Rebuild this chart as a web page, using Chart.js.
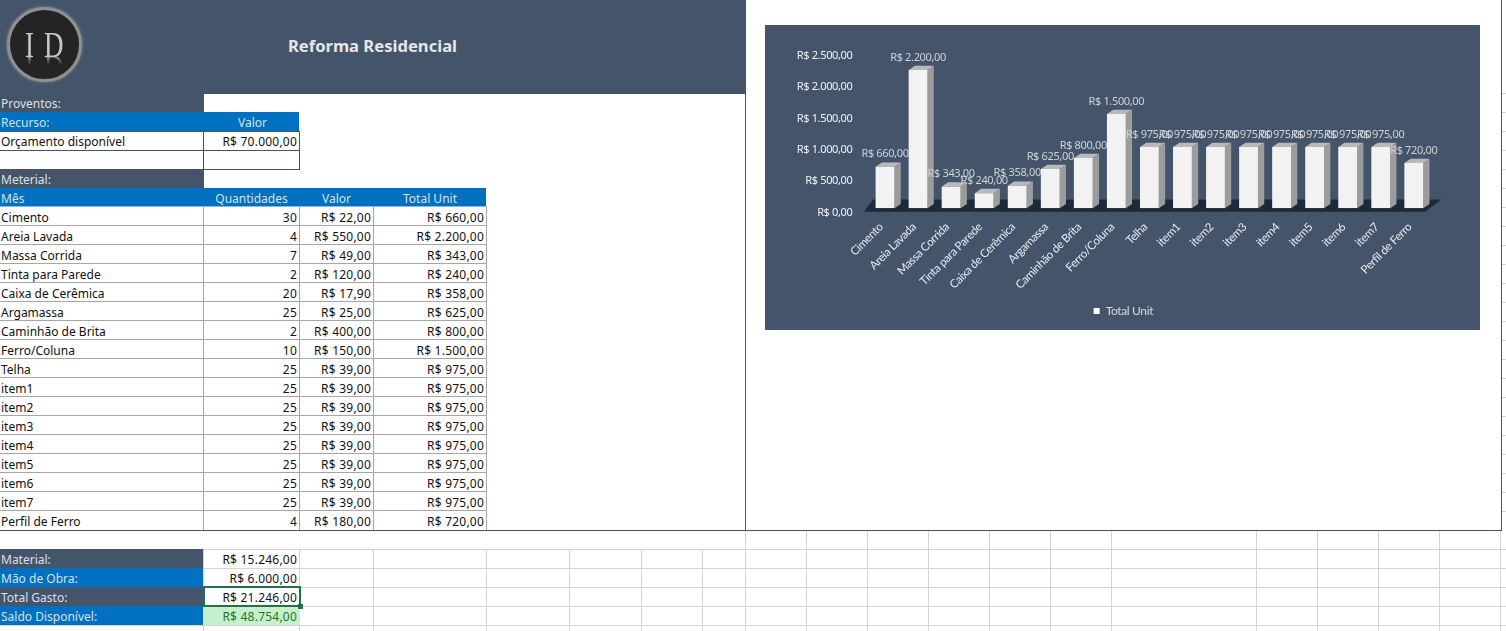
<!DOCTYPE html>
<html lang="pt-BR">
<head>
<meta charset="utf-8">
<title>Reforma Residencial</title>
<script src="https://cdn.jsdelivr.net/npm/chart.js@4"></script>
<style>
    html, body { margin: 0; padding: 0; background: #fff; overflow: hidden; }
    #sheet { position: relative; width: 1506px; height: 631px; overflow: hidden; font-family: "Noto Sans", sans-serif; font-size: 12px; color: #111; }
    .box { position: absolute; box-sizing: border-box; }
    .cell { position: absolute; box-sizing: border-box; white-space: nowrap; line-height: 21px; height: 19px; padding: 0 2px 0 1px; }
    .num { letter-spacing: .22px; }
    #chartBox { position: absolute; left: 765px; top: 25px; width: 715px; height: 305px; }
    #logo { position: absolute; left: 7px; top: 7px; width: 75px; height: 75px; border-radius: 50%; background: #242424; border: 3px solid #8f9090; box-sizing: border-box; box-shadow: 0 0 3px #9a9a9a; font-family: "Liberation Serif", serif; font-size: 36px; color: #c6c6c6; }
    #logo span { position: absolute; line-height: 40px; transform-origin: 0 0; transform: scaleX(.75); }
    #logo .mirror { transform-origin: 0 50%; transform: scale(.75, -1); opacity: .75; -webkit-mask-image: linear-gradient(to top, #000 20%, transparent 42%); }
    #title { position: absolute; left: 0; top: 34px; width: 745px; text-align: center; font-size: 16.6px; line-height: 24px; font-weight: 700; color: #e6e6e6; }
</style>
</head>
<body>
<div id="sheet"></div>
<script>
const categories = ['Cimento', 'Areia Lavada', 'Massa Corrida', 'Tinta para Parede', 'Caixa de Cerêmica', 'Argamassa',
    'Caminhão de Brita', 'Ferro/Coluna', 'Telha', 'item1', 'item2', 'item3', 'item4', 'item5', 'item6', 'item7', 'Perfil de Ferro'];
const quantities = [30, 4, 7, 2, 20, 25, 2, 10, 25, 25, 25, 25, 25, 25, 25, 25, 4];
const unitPrices = [22, 550, 49, 120, 17.9, 25, 400, 150, 39, 39, 39, 39, 39, 39, 39, 39, 180];
const totalUnit = [660, 2200, 343, 240, 358, 625, 800, 1500, 975, 975, 975, 975, 975, 975, 975, 975, 720];
const yTicks = [0, 500, 1000, 1500, 2000, 2500];
const summaryLabels = ['Material:', 'Mão de Obra:', 'Total Gasto:', 'Saldo Disponível:'];
const summaryValues = [15246, 6000, 21246, 48754];
const budget = 70000;

const NAVY = '#44546a';
const BLUE = '#0070c0';
const GRID = '#d4d4d4';
const TABLE_LINE = '#a6a6a6';

const brl = v => 'R$ ' + v.toLocaleString('pt-BR', {minimumFractionDigits: 2, maximumFractionDigits: 2});

const sheet = document.getElementById('sheet');

function box(x, y, w, h, color) {
    const el = document.createElement('div');
    el.className = 'box';
    el.style.cssText = `left:${x}px;top:${y}px;width:${w}px;height:${h}px;background:${color}`;
    sheet.appendChild(el);
    return el;
}

function text(x, y, w, str, align, color, numeric) {
    const el = document.createElement('div');
    el.className = numeric ? 'cell num' : 'cell';
    el.textContent = str;
    el.style.cssText = `left:${x}px;top:${y}px;width:${w}px;text-align:${align || 'left'};color:${color || '#111'}`;
    sheet.appendChild(el);
}

// spreadsheet grid below the tables
const gridX = [203, 299, 373, 486, 569, 641, 702, 745, 806, 867, 928, 989, 1050, 1111, 1256, 1317, 1378, 1439, 1500];
gridX.forEach(x => { if (x >= 745) box(x, 530, 1, 101, GRID); else box(x, 549, 1, 82, GRID); });
[549, 568, 587, 606, 625].forEach(y => box(0, y, 1506, 1, GRID));
for (let y = 93; y < 530; y += 19) box(1502, y, 4, 1, GRID);

// coloured bands
box(0, 0, 746, 94, NAVY);
box(0, 94, 204, 18, NAVY);
box(0, 112, 299, 19, BLUE);
box(0, 169, 204, 19, NAVY);
box(0, 188, 486, 19, BLUE);
box(0, 549, 203, 19, NAVY);
box(0, 568, 203, 19, BLUE);
box(0, 587, 203, 19, NAVY);
box(0, 606, 203, 19, BLUE);
box(203, 606, 97, 19, '#c6efce');

// budget block borders
box(0, 131, 299, 1, NAVY);
box(0, 150, 299, 1, NAVY);
box(203, 169, 97, 1, NAVY);
box(203, 131, 1, 38, NAVY);
box(299, 131, 1, 38, NAVY);

// material table borders
for (let i = 0; i <= 16; i++) box(0, 207 + i * 19 - 1, 487, 1, i ? TABLE_LINE : '#8fb8dc');
[203, 299, 373, 486].forEach(x => box(x, 207, 1, 323, TABLE_LINE));

// sheet frame
box(745, 94, 1, 436, NAVY);
box(1501, 0, 1, 531, NAVY);
box(0, 530, 1502, 1, NAVY);

// selected cell
box(203, 586, 98, 21, 'transparent').style.border = '2px solid #217346';
box(298, 604, 5, 5, '#217346');

const logo = document.createElement('div');
logo.id = 'logo';
logo.innerHTML = '<span style="left:15px;top:15px">I</span><span style="left:34px;top:15px">D</span>'
    + '<span class="mirror" style="left:15px;top:38px">I</span><span class="mirror" style="left:34px;top:38px">D</span>';
sheet.appendChild(logo);

const title = document.createElement('div');
title.id = 'title';
title.textContent = 'Reforma Residencial';
sheet.appendChild(title);

const LIGHT = '#dbe0e6';
text(0, 93, 203, 'Proventos:', 'left', LIGHT);
text(0, 112, 203, 'Recurso:', 'left', LIGHT);
text(205, 112, 96, 'Valor', 'center', LIGHT);
text(0, 131, 203, 'Orçamento disponível');
text(203, 131, 96, brl(budget), 'right', null, true);
text(0, 169, 203, 'Meterial:', 'left', LIGHT);
text(0, 188, 203, 'Mês', 'left', LIGHT);
text(204, 188, 96, 'Quantidades', 'center', LIGHT);
text(300, 188, 74, 'Valor', 'center', LIGHT);
text(374, 188, 113, 'Total Unit', 'center', LIGHT);

categories.forEach((name, i) => {
    const y = 207 + i * 19;
    text(0, y, 203, name);
    text(203, y, 96, String(quantities[i]), 'right', null, true);
    text(299, y, 74, brl(unitPrices[i]), 'right', null, true);
    text(373, y, 113, brl(totalUnit[i]), 'right', null, true);
});

summaryLabels.forEach((label, i) => {
    const y = 549 + i * 19;
    text(0, y, 203, label, 'left', LIGHT);
    text(203, y, 96, brl(summaryValues[i]), 'right', i === 3 ? '#1d7a1d' : '#111', true);
});

const chartBox = document.createElement('div');
chartBox.id = 'chartBox';
chartBox.innerHTML = '<canvas id="chart" width="715" height="305"></canvas>';
sheet.appendChild(chartBox);

// fake 3d: floor, bar sides and caps, then the value labels on top
const DEPTH_X = 6.3;
const DEPTH_Y = 4.3;

function poly(ctx, color, pts) {
    ctx.fillStyle = color;
    ctx.beginPath();
    pts.forEach((p, i) => i ? ctx.lineTo(p[0], p[1]) : ctx.moveTo(p[0], p[1]));
    ctx.closePath();
    ctx.fill();
}

const bars3d = {
    id: 'bars3d',
    beforeDatasetsDraw(chart) {
        const {ctx, chartArea: a} = chart;
        poly(ctx, '#1e2a38', [[a.left - 4.5, a.bottom + 3.6], [a.left + 4.5, a.bottom - 8.7], [a.right + 11, a.bottom - 8.7], [a.right - 5, a.bottom + 3.6]]);
        chart.getDatasetMeta(0).data.forEach(bar => {
            const l = bar.x - bar.width / 2;
            const r = bar.x + bar.width / 2;
            poly(ctx, '#9c9c9c', [[r, bar.y], [r + DEPTH_X, bar.y - DEPTH_Y], [r + DEPTH_X, bar.base - DEPTH_Y], [r, bar.base]]);
            poly(ctx, '#b9b9b9', [[l, bar.y], [l + DEPTH_X, bar.y - DEPTH_Y], [r + DEPTH_X, bar.y - DEPTH_Y], [r, bar.y]]);
        });
    },
    afterDatasetsDraw(chart) {
        const {ctx} = chart;
        ctx.save();
        ctx.font = '11px "Noto Sans"';
        ctx.fillStyle = '#cfd2d6';
        ctx.textAlign = 'center';
        ctx.textBaseline = 'middle';
        chart.getDatasetMeta(0).data.forEach((bar, i) => {
            ctx.fillText(brl(totalUnit[i]), bar.x, bar.y - 12.5);
        });
        ctx.restore();
    }
};

// the picture's font runs narrower than the ones installed here
const chartCanvas = document.getElementById('chart');
chartCanvas.getContext('2d').letterSpacing = '-0.35px';

new Chart(chartCanvas, {
    type: 'bar',
    plugins: [bars3d, {
        id: 'background',
        beforeDraw(chart) {
            chart.ctx.letterSpacing = '-0.35px';
            chart.ctx.fillStyle = NAVY;
            chart.ctx.fillRect(0, 0, chart.width, chart.height);
        },
        afterLayout(chart) {
            // legend is centred on the whole panel, not on the padded width
            chart.legend.left += 27.5;
            chart.legend.right += 27.5;
        }
    }],
    data: {
        labels: categories,
        datasets: [{
            label: 'Total Unit',
            data: totalUnit,
            backgroundColor: '#f2f2f2',
            barPercentage: 0.57,
            categoryPercentage: 1
        }]
    },
    options: {
        responsive: false,
        animation: false,
        devicePixelRatio: 1,
        layout: { padding: { top: 26.2, right: 49.7, left: 0, bottom: 3 } },
        plugins: {
            tooltip: { enabled: false },
            legend: {
                position: 'bottom',
                labels: {
                    font: { family: 'Lato', size: 12 },
                    boxWidth: 6,
                    boxHeight: 6,
                    padding: 5,
                    generateLabels: () => [{ text: 'Total Unit', fontColor: '#d6d9dd', fillStyle: '#ffffff', strokeStyle: '#ffffff', lineWidth: 0 }]
                }
            }
        },
        scales: {
            x: {
                grid: { display: false },
                border: { display: false },
                afterFit(scale) { scale.height = 91.8; },
                ticks: {
                    color: '#e8eaed',
                    font: { family: 'Lato', size: 11.5 },
                    maxRotation: 45,
                    minRotation: 45,
                    autoSkip: false,
                    padding: 4,
                    labelOffset: -4
                }
            },
            y: {
                min: 0,
                max: yTicks[yTicks.length - 1],
                afterBuildTicks(scale) { scale.ticks = yTicks.map(value => ({value})); },
                afterFit(scale) { scale.width = 103.5; },
                grid: { display: false, drawTicks: false },
                border: { display: false },
                ticks: {
                    color: '#f2f3f5',
                    font: { family: 'Noto Sans', size: 11 },
                    padding: 16,
                    labelOffset: 4.5,
                    callback: value => brl(value)
                }
            }
        }
    }
});
</script>
</body>
</html>
